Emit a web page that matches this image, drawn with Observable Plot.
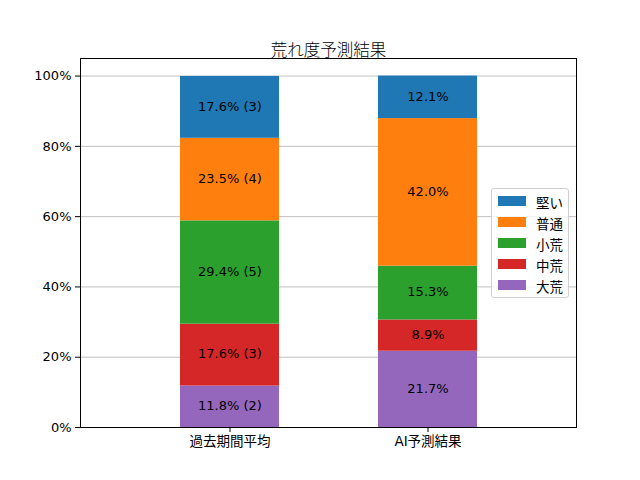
<!DOCTYPE html>
<html>
<head>
<meta charset="utf-8">
<script src="https://cdn.jsdelivr.net/npm/d3@7"></script>
<script src="https://cdn.jsdelivr.net/npm/@observablehq/plot@0.6"></script>
<style>
  html, body { margin: 0; padding: 0; background: white; }
  #wrap { position: relative; width: 640px; height: 480px; font-family: "DejaVu Sans", "Noto Sans CJK JP", sans-serif; }
  #legend { position: absolute; left: 491px; top: 188px; width: 76px; height: 108px; border: 1px solid #d0d0d0; border-radius: 3px; background: rgba(255,255,255,0.8); box-sizing: content-box; }
  .row { position: absolute; left: 0; height: 21px; font-size: 13.5px; color: black; }
  .sw { position: absolute; left: 6px; width: 28px; height: 10px; }
  .lb { position: absolute; left: 44px; white-space: nowrap; }
</style>
</head>
<body>
<div id="wrap"></div>
<script>
const title = "荒れ度予測結果";
const groups = ["過去期間平均", "AI予測結果"];
// stacking order: bottom to top
const categories = ["大荒", "中荒", "小荒", "普通", "堅い"];
const colors = ["#9467bd", "#d62728", "#2ca02c", "#ff7f0e", "#1f77b4"];
const pastValues = [11.8, 17.6, 29.4, 23.5, 17.6];
const pastCounts = [2, 3, 5, 4, 3];
const aiValues = [21.7, 8.9, 15.3, 42.0, 12.1];
const yTicks = [0, 20, 40, 60, 80, 100];

const data = [];
categories.forEach((c, i) => data.push({group: groups[0], cat: c, value: pastValues[i], label: `${pastValues[i].toFixed(1)}% (${pastCounts[i]})`}));
categories.forEach((c, i) => data.push({group: groups[1], cat: c, value: aiValues[i], label: `${aiValues[i].toFixed(1)}%`}));

const font = '"DejaVu Sans", "Noto Sans CJK JP", sans-serif';

const chart = Plot.plot({
  width: 640,
  height: 480,
  marginLeft: 80,
  marginRight: 64,
  marginTop: 58,
  marginBottom: 53,
  style: {fontFamily: font, fontSize: "13px", background: "white", color: "black", overflow: "visible"},
  x: {domain: groups, paddingInner: 0.5, paddingOuter: 0.5, label: null},
  y: {domain: [0, 105], label: null},
  color: {domain: categories, range: colors},
  marks: [
    Plot.gridY(yTicks, {stroke: "#b0b0b0", strokeOpacity: 1, strokeWidth: 0.8}),
    Plot.barY(data, {x: "group", y: "value", fill: "cat"}),
    Plot.text(data, Plot.stackY({x: "group", y: "value", text: "label", fill: "black", fontSize: 13, dy: -1})),
    Plot.axisY({ticks: yTicks, tickFormat: d => d + "%", tickSize: 5, tickPadding: 4, label: null, fontSize: 13}),
    Plot.axisX({tickSize: 5, tickPadding: 4, label: null, fontSize: 13.5}),
    Plot.frame({stroke: "black", strokeWidth: 1}),
    Plot.text([title], {frameAnchor: "top", dy: -14, text: d => d, fontSize: 16.5, fontWeight: 300, fill: "black"})
  ]
});

const wrap = document.getElementById("wrap");
wrap.appendChild(chart);

const legend = document.createElement("div");
legend.id = "legend";
const order = categories.map((c, i) => ({c, col: colors[i]})).reverse();
order.forEach((d, i) => {
  const row = document.createElement("div");
  row.className = "row";
  row.style.top = (2 + i * 21) + "px";
  row.style.width = "76px";
  const sw = document.createElement("div");
  sw.className = "sw";
  sw.style.background = d.col;
  sw.style.top = "5px";
  const lb = document.createElement("div");
  lb.className = "lb";
  lb.style.top = "1px";
  lb.textContent = d.c;
  row.appendChild(sw);
  row.appendChild(lb);
  legend.appendChild(row);
});
wrap.appendChild(legend);
</script>
</body>
</html>
